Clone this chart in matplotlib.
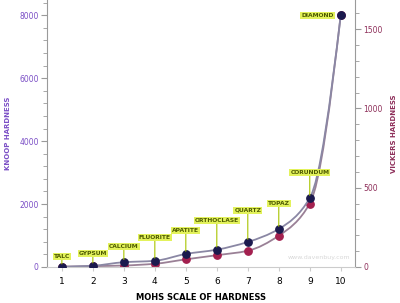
import numpy as np
import matplotlib
matplotlib.use("Agg")
from matplotlib import pyplot as plt
from matplotlib.path import Path
from matplotlib.patches import PathPatch
import matplotlib.ticker as ticker


# %% --------------- DATA                                         ---------------------------------------------------- #
mohs = [1, 2, 3, 4, 5, 6, 7, 8, 9, 10]
minerals = ["TALC", "GYPSUM", "CALCIUM", "FLUORITE", "APATITE",
            "ORTHOCLASE", "QUARTZ", "TOPAZ", "CORUNDUM", "DIAMOND"]
knoop = [10, 40, 150, 195, 413, 549, 794, 1206, 2190, 8000]
vickers = [2, 5, 9, 20, 48, 74, 102, 197, 400, 1590]
label_offsets = [8, 10, 13, 21, 21, 27, 29, 23, 23, 0]   # px above point


# %% --------------- HELPERS                                      ---------------------------------------------------- #
def smooth_path(x, y):
    # monotone cubic (pchip-style) tangents, drawn as bezier segments
    x = np.asarray(x, float)
    y = np.asarray(y, float)
    h = np.diff(x)
    d = np.diff(y) / h
    m = np.zeros_like(y)
    for k in range(1, len(y) - 1):
        if d[k - 1] * d[k] > 0:
            m[k] = 2.0 / (1.0 / d[k - 1] + 1.0 / d[k])
    m[0] = (3 * d[0] - d[1]) / 2
    m[-1] = (3 * d[-1] - d[-2]) / 2
    verts = [(x[0], y[0])]
    codes = [Path.MOVETO]
    for k in range(len(x) - 1):
        verts += [(x[k] + h[k] / 3, y[k] + m[k] * h[k] / 3),
                  (x[k + 1] - h[k] / 3, y[k + 1] - m[k + 1] * h[k] / 3),
                  (x[k + 1], y[k + 1])]
        codes += [Path.CURVE4] * 3
    return Path(verts, codes)


# %% --------------- PLOT                                         ---------------------------------------------------- #
knoop_col = "#7b4fc6"
vick_col = "#8e2f5a"
grey = "#9a9a9a"

fig = plt.figure(figsize=(4.0, 3.03), dpi=100)
ax = fig.add_axes([0.1175, 0.119, 0.77, 0.881])
ax2 = ax.twinx()
ax.set_zorder(2)
ax.patch.set_visible(False)

# Vickers (right axis)
ax2.add_patch(PathPatch(smooth_path(mohs, vickers), fill=False, ec="#9a8096", lw=1.3))
ax2.plot(mohs, vickers, "o", ms=5.3, color="#a3204f", zorder=3)

# Knoop (left axis)
ax.add_patch(PathPatch(smooth_path(mohs, knoop), fill=False, ec="#8a87a4", lw=1.3))
ax.plot(mohs, knoop, "o", ms=5.3, color="#1b1a4e", zorder=4)

ax.set_xlim(0.52, 10.46)
ax.set_ylim(0, 8486)
ax2.set_ylim(0, 1684)

# mineral labels
for x, y, name, off in zip(mohs, knoop, minerals, label_offsets):
    if name == "DIAMOND":
        ax.annotate(name, (x, y), xytext=(-7 * 0.72, 0), textcoords="offset points",
                    ha="right", va="center", fontsize=4.3, fontweight="bold", color="#4d5a00",
                    bbox=dict(boxstyle="square,pad=0.15", fc="#e3f25c", ec="none"), zorder=6)
        continue
    ax.annotate(name, (x, y), xytext=(0, off * 0.72), textcoords="offset points",
                ha="center", va="bottom", fontsize=4.3, fontweight="bold", color="#4d5a00",
                bbox=dict(boxstyle="square,pad=0.15", fc="#e3f25c", ec="none"),
                arrowprops=dict(arrowstyle="-", color="#a8c400", lw=0.8, shrinkA=0, shrinkB=2),
                zorder=6)

# axes styling
for a in (ax, ax2):
    for s in a.spines.values():
        s.set_visible(False)
ax.spines["left"].set_visible(True)
ax.spines["left"].set_color(grey)
ax.spines["bottom"].set_visible(True)
ax.spines["bottom"].set_color("#cccccc")
ax2.spines["right"].set_visible(True)
ax2.spines["right"].set_color(grey)

ax.set_xticks(mohs)
ax.tick_params(axis="x", length=3, color="#cccccc", labelsize=6.5, pad=4)
ax.yaxis.set_major_locator(ticker.MultipleLocator(2000))
ax.yaxis.set_minor_locator(ticker.MultipleLocator(400))
ax.tick_params(axis="y", which="major", length=4, color=grey, labelsize=5.5,
               labelcolor=knoop_col, pad=2)
ax.tick_params(axis="y", which="minor", length=3, color=grey)
ax2.yaxis.set_major_locator(ticker.MultipleLocator(500))
ax2.yaxis.set_minor_locator(ticker.MultipleLocator(100))
ax2.tick_params(axis="y", which="major", length=4, color=grey, labelsize=5.5,
                labelcolor=vick_col, pad=2)
ax2.tick_params(axis="y", which="minor", length=3, color=grey)

ax.set_xlabel("MOHS SCALE OF HARDNESS", fontsize=6, fontweight="bold", labelpad=5)
ax.set_ylabel("KNOOP HARDNESS", fontsize=5, fontweight="bold", color=knoop_col, labelpad=6)
ax2.set_ylabel("VICKERS HARDNESS", fontsize=5, fontweight="bold", color=vick_col, labelpad=6)

fig.text(0.875, 0.15, "www.davenbuy.com", fontsize=4.5, color="#d8d8d8", ha="right", va="center")

fig.savefig("out.png", dpi=100)
